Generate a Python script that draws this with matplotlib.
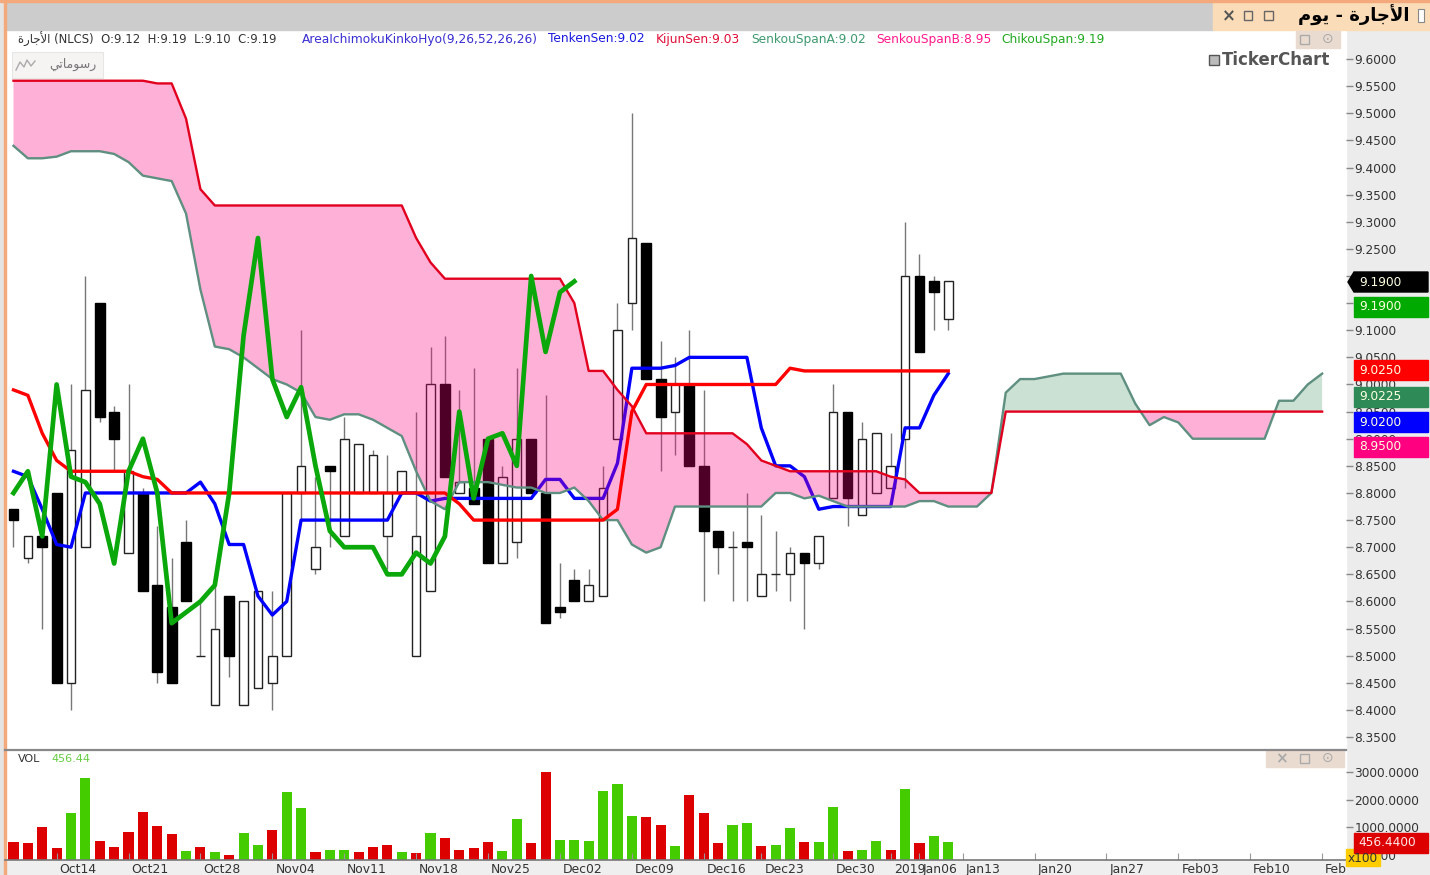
import matplotlib
matplotlib.use('Agg')
import matplotlib.pyplot as plt
from matplotlib.patches import Rectangle, Polygon
from matplotlib.transforms import ScaledTranslation
import numpy as np

W, H = 1430, 875
plt.rcParams['font.family'] = ['DejaVu Sans', 'Noto Sans']

# candles, one entry per bar
opens = [8.77, 8.68, 8.72, 8.80, 8.45, 8.70, 9.15, 8.95, 8.69, 8.80, 8.63, 8.59, 8.71, 8.50, 8.41, 8.61, 8.41, 8.44, 8.45, 8.50,
         8.80, 8.66, 8.85, 8.72, 8.80, 8.80, 8.72, 8.80, 8.50, 8.62, 9.00, 8.80, 8.81, 8.90, 8.67, 8.71, 8.90, 8.80, 8.59, 8.64,
         8.60, 8.61, 8.90, 9.15, 9.26, 9.01, 8.95, 9.00, 8.85, 8.73, 8.70, 8.71, 8.61, 8.65, 8.65, 8.69, 8.67, 8.79, 8.95, 8.76,
         8.80, 8.81, 8.90, 9.20, 9.19, 9.12]
closes = [8.75, 8.72, 8.70, 8.45, 8.88, 8.99, 8.94, 8.90, 8.84, 8.62, 8.47, 8.45, 8.60, 8.50, 8.55, 8.50, 8.60, 8.62, 8.50, 8.80,
          8.85, 8.70, 8.84, 8.90, 8.89, 8.87, 8.80, 8.84, 8.72, 9.00, 8.83, 8.82, 8.78, 8.67, 8.83, 8.90, 8.80, 8.56, 8.58, 8.60,
          8.63, 8.81, 9.10, 9.27, 9.01, 8.94, 9.00, 8.85, 8.73, 8.70, 8.70, 8.70, 8.65, 8.65, 8.69, 8.67, 8.72, 8.95, 8.79, 8.90,
          8.91, 8.85, 9.20, 9.06, 9.17, 9.19]
highs = [8.77, 8.72, 8.72, 8.80, 9.00, 9.20, 9.15, 8.96, 9.00, 8.81, 8.74, 8.68, 8.75, 8.60, 8.63, 8.61, 8.60, 8.62, 8.62, 8.80,
         9.10, 8.83, 8.85, 8.94, 8.89, 8.88, 8.87, 8.84, 8.95, 9.07, 9.09, 8.99, 9.03, 8.90, 8.85, 9.03, 8.90, 8.98, 8.67, 8.66,
         8.66, 8.85, 9.15, 9.50, 9.26, 9.08, 9.05, 9.10, 8.99, 8.73, 8.73, 8.80, 8.76, 8.73, 8.70, 8.69, 8.72, 9.00, 8.95, 8.93,
         8.91, 8.91, 9.30, 9.24, 9.20, 9.19]
lows = [8.70, 8.67, 8.55, 8.45, 8.40, 8.70, 8.93, 8.84, 8.69, 8.62, 8.45, 8.45, 8.60, 8.50, 8.41, 8.46, 8.41, 8.44, 8.40, 8.50,
        8.75, 8.65, 8.70, 8.72, 8.80, 8.80, 8.66, 8.80, 8.50, 8.62, 8.83, 8.80, 8.78, 8.67, 8.67, 8.68, 8.80, 8.56, 8.57, 8.60,
        8.60, 8.61, 8.90, 9.10, 9.01, 8.84, 8.87, 8.85, 8.60, 8.65, 8.60, 8.60, 8.61, 8.62, 8.60, 8.55, 8.66, 8.79, 8.74, 8.76,
        8.80, 8.81, 8.81, 9.06, 9.10, 9.10]

tenkan = [8.84, 8.83, 8.77, 8.705, 8.70, 8.80, 8.80, 8.80, 8.80, 8.80, 8.80, 8.80, 8.80, 8.82, 8.78, 8.705, 8.705, 8.61, 8.575, 8.60,
          8.75, 8.75, 8.75, 8.75, 8.75, 8.75, 8.75, 8.80, 8.80, 8.785, 8.79, 8.79, 8.79, 8.79, 8.79, 8.79, 8.79, 8.825, 8.825, 8.79,
          8.79, 8.79, 8.855, 9.03, 9.03, 9.03, 9.035, 9.05, 9.05, 9.05, 9.05, 9.05, 8.92, 8.85, 8.85, 8.83, 8.77, 8.775, 8.775, 8.775,
          8.775, 8.775, 8.92, 8.92, 8.98, 9.02]
kijun = [8.99, 8.98, 8.91, 8.86, 8.84, 8.84, 8.84, 8.84, 8.84, 8.83, 8.825, 8.80, 8.80, 8.80, 8.80, 8.80, 8.80, 8.80, 8.80, 8.80,
         8.80, 8.80, 8.80, 8.80, 8.80, 8.80, 8.80, 8.80, 8.80, 8.80, 8.80, 8.78, 8.75, 8.75, 8.75, 8.75, 8.75, 8.75, 8.75, 8.75,
         8.75, 8.75, 8.77, 8.95, 9.00, 9.00, 9.00, 9.00, 9.00, 9.00, 9.00, 9.00, 9.00, 9.00, 9.03, 9.025, 9.025, 9.025, 9.025, 9.025,
         9.025, 9.025, 9.025, 9.025, 9.025, 9.025]
chikou = [8.80, 8.84, 8.72, 9.00, 8.83, 8.82, 8.78, 8.67, 8.84, 8.90, 8.80, 8.56, 8.58, 8.60, 8.63, 8.80, 9.09, 9.27, 9.01, 8.94,
          8.995, 8.85, 8.73, 8.70, 8.70, 8.70, 8.65, 8.65, 8.69, 8.67, 8.72, 8.95, 8.79, 8.90, 8.91, 8.85, 9.20, 9.06, 9.17, 9.19]
span_a = [9.44, 9.417, 9.417, 9.42, 9.43, 9.43, 9.43, 9.425, 9.41, 9.385, 9.38, 9.375, 9.315, 9.175, 9.07, 9.065, 9.05, 9.03, 9.01, 9.00,
          8.985, 8.94, 8.935, 8.945, 8.945, 8.935, 8.92, 8.905, 8.84, 8.785, 8.77, 8.82, 8.82, 8.82, 8.815, 8.81, 8.81, 8.80, 8.80, 8.81,
          8.785, 8.75, 8.75, 8.705, 8.69, 8.70, 8.775, 8.775, 8.775, 8.775, 8.775, 8.775, 8.775, 8.80, 8.80, 8.79, 8.795, 8.785, 8.775, 8.775,
          8.775, 8.775, 8.775, 8.785, 8.785, 8.775, 8.775, 8.775, 8.80, 8.985, 9.01, 9.01, 9.015, 9.02, 9.02, 9.02, 9.02, 9.02, 8.965, 8.925,
          8.94, 8.93, 8.90, 8.90, 8.90, 8.90, 8.90, 8.90, 8.97, 8.97, 9.00, 9.02]
span_b = [9.56, 9.56, 9.56, 9.56, 9.56, 9.56, 9.56, 9.56, 9.56, 9.56, 9.555, 9.555, 9.49, 9.36, 9.33, 9.33, 9.33, 9.33, 9.33, 9.33,
          9.33, 9.33, 9.33, 9.33, 9.33, 9.33, 9.33, 9.33, 9.27, 9.225, 9.195, 9.195, 9.195, 9.195, 9.195, 9.195, 9.195, 9.195, 9.195, 9.15,
          9.025, 9.025, 8.99, 8.96, 8.91, 8.91, 8.91, 8.91, 8.91, 8.91, 8.91, 8.89, 8.86, 8.85, 8.84, 8.84, 8.84, 8.84, 8.84, 8.84,
          8.84, 8.83, 8.825, 8.80, 8.80, 8.80, 8.80, 8.80, 8.80, 8.95, 8.95, 8.95, 8.95, 8.95, 8.95, 8.95, 8.95, 8.95, 8.95, 8.95,
          8.95, 8.95, 8.95, 8.95, 8.95, 8.95, 8.95, 8.95, 8.95, 8.95, 8.95, 8.95]

volume = [469, 422, 1011, 241, 1504, 2767, 517, 289, 830, 1552, 1059, 746, 144, 289, 108, 12, 782, 373, 914, 2274,
          1685, 108, 192, 192, 108, 289, 373, 108, 60, 782, 602, 192, 241, 469, 144, 1288, 422, 2996, 554, 554,
          517, 2323, 2551, 1408, 1372, 1095, 325, 2178, 1504, 422, 1095, 1143, 325, 373, 963, 469, 469, 1733, 144, 192,
          517, 192, 2383, 422, 686, 456.44]
vol_up = [0, 0, 0, 0, 1, 1, 0, 0, 0, 0, 0, 0, 1, 0, 1, 0, 1, 1, 0, 1,
          1, 0, 1, 1, 0, 0, 0, 1, 0, 1, 0, 0, 0, 0, 1, 1, 0, 0, 1, 1,
          1, 1, 1, 1, 0, 0, 1, 0, 0, 0, 1, 1, 0, 1, 1, 0, 1, 1, 0, 1,
          1, 0, 1, 0, 1, 1]

date_ticks = [3, 8, 13, 18, 23, 28, 33, 38, 43, 48, 52, 57, 61, 63, 66, 71, 76, 81, 86, 91]
date_labels = ['Oct14', 'Oct21', 'Oct28', 'Nov04', 'Nov11', 'Nov18', 'Nov25', 'Dec02', 'Dec09', 'Dec16', 'Dec23', 'Dec30',
               '2019', 'Jan06', 'Jan13', 'Jan20', 'Jan27', 'Feb03', 'Feb10', 'Feb']
price_ticks = [8.35, 8.40, 8.45, 8.50, 8.55, 8.60, 8.65, 8.70, 8.75, 8.80, 8.85, 8.90, 8.95, 9.00, 9.05, 9.10, 9.15, 9.20, 9.25, 9.30,
               9.35, 9.40, 9.45, 9.50, 9.55, 9.60]
vol_ticks = [0, 1000, 2000, 3000]

# arabic text, already in shaped glyphs and display order
name_ar = '\ufe93\ufead\ufe8e\ufe9f\ufef7\ufe8d'
day_ar = '\ufee1\ufeee\ufef3'
drawings_ar = '\ufef2\ufe97\ufe8e\ufee3\ufeee\ufeb3\ufead'


def box(left, top, right, bottom):
    return [left / W, 1 - bottom / H, (right - left) / W, (bottom - top) / H]


fig = plt.figure(figsize=(W / 100, H / 100), dpi=100, facecolor='#ececec')

bg = fig.add_axes([0, 0, 1, 1], zorder=-1)
bg.set_xlim(0, W)
bg.set_ylim(H, 0)
bg.axis('off')
bg.add_patch(Rectangle((0, 0), 4, H, color='#e4e4e4'))
bg.add_patch(Rectangle((5, 30), 1341, 830, color='white'))
bg.add_patch(Rectangle((5, 860), 1341, 15, color='#efefef'))
bg.add_patch(Rectangle((5, 3), 1208, 27, color='#cccccc'))
bg.add_patch(Rectangle((1213, 3), 217, 27, color='#fbdcb8'))
bg.add_patch(Rectangle((0, 0), W, 2, color='#f4a97c'))
bg.add_patch(Rectangle((4, 0), 1.6, H, color='#f4a97c'))

x_min = -0.59
x_max = 92.66
x = np.arange(92)
xs = np.arange(66)

ax = fig.add_axes(box(5, 30, 1346, 749), facecolor='none')
ax.set_xlim(x_min, x_max)
ax.set_ylim(8.328, 9.6535)
for s in ax.spines.values():
    s.set_visible(False)
ax.set_xticks([])
ax.yaxis.tick_right()
ax.set_yticks(price_ticks)
ax.set_yticklabels(['%.4f' % p for p in price_ticks], fontsize=8.7, color='#333333')
ax.tick_params(axis='y', length=5, width=1, color='#888888', pad=1)

# candles
ax.vlines(xs, lows, highs, color='#777777', lw=1, zorder=1)
for i in xs:
    up = closes[i] >= opens[i]
    ax.bar(i, abs(closes[i] - opens[i]), bottom=min(opens[i], closes[i]), width=0.6 if up else 0.68,
           facecolor='white' if up else 'black', edgecolor='#222222' if up else 'black', lw=1, zorder=1.5)

ax.plot(xs, tenkan, color='#0000ff', lw=2.4, zorder=2)

# cloud
a = np.array(span_a)
b = np.array(span_b)
ax.fill_between(x, a, b, where=b >= a, interpolate=True, color='#ff0080', alpha=0.31, lw=0, zorder=3)
ax.fill_between(x, a, b, where=a >= b, interpolate=True, color='#2e8b57', alpha=0.25, lw=0, zorder=3)
ax.plot(x, span_a, color='#5f8f80', lw=1.7, zorder=3.5)
ax.plot(x, span_b, color='#e2001f', lw=1.7, zorder=3.5)

ax.plot(xs, kijun, color='#ff0000', lw=2.4, zorder=4)
ax.plot(np.arange(40), chikou, color='#0aa80a', lw=3.4, zorder=5)

# volume panel, bars stand on the panel floor which is below zero
vol_floor = -180
vol = fig.add_axes(box(5, 751, 1346, 860), facecolor='none')
vol.set_xlim(x_min, x_max)
vol.set_ylim(vol_floor, 3754)
vol.bar(xs, np.array(volume) - vol_floor, bottom=vol_floor, width=0.7, color=['#44cc00' if u else '#dd0000' for u in vol_up])
for name in ['top', 'left', 'right']:
    vol.spines[name].set_visible(False)
vol.spines['bottom'].set_color('#777777')
vol.spines['bottom'].set_linewidth(1.2)
vol.yaxis.tick_right()
vol.set_yticks(vol_ticks)
vol.set_yticklabels(['%.4f' % v for v in vol_ticks], fontsize=8.7, color='#333333')
vol.tick_params(axis='y', length=5, width=1, color='#888888', pad=1)
vol.set_xticks(date_ticks)
vol.set_xticklabels(date_labels, fontsize=8.9, color='#333333', ha='left')
vol.tick_params(axis='x', direction='in', length=5, width=0.8, color='#999999', pad=2)
shift = ScaledTranslation(3 / 100, 0, fig.dpi_scale_trans)
for label in vol.get_xticklabels():
    label.set_transform(label.get_transform() + shift)

# everything on top of the panels
top = fig.add_axes([0, 0, 1, 1], zorder=10, facecolor='none')
top.set_xlim(0, W)
top.set_ylim(H, 0)
top.axis('off')

top.plot([5, 1346], [749.5, 749.5], color='#888888', lw=1.6)

# legend row
top.text(18, 39, name_ar + ' (NLCS)  O:9.12  H:9.19  L:9.10  C:9.19', fontsize=8.4, color='#333333', va='center')
legend_row = [(302, 'AreaIchimokuKinkoHyo(9,26,52,26,26)', '#3a2fd0'), (548, 'TenkenSen:9.02', '#1a1ae0'),
              (656, 'KijunSen:9.03', '#e0103a'), (751, 'SenkouSpanA:9.02', '#3f9a70'),
              (876, 'SenkouSpanB:8.95', '#ff1a8c'), (1001, 'ChikouSpan:9.19', '#22aa22')]
for px, txt, col in legend_row:
    top.text(px, 39, txt, fontsize=8.8, color=col, va='center')

# title tab
top.text(1410, 15, day_ar + ' - ' + name_ar, fontsize=13, fontweight='bold', color='black', va='center', ha='right')
top.add_patch(Rectangle((1418, 9), 6, 13, facecolor='white', edgecolor='#888888', lw=0.8))
top.text(1229, 16, '\u00d7', fontsize=12, fontweight='bold', color='#555555', ha='center', va='center')
top.add_patch(Rectangle((1244, 11), 8, 9, facecolor='none', edgecolor='#666666', lw=1))
top.add_patch(Rectangle((1264, 11), 9, 9, facecolor='none', edgecolor='#666666', lw=1))

# chart buttons
top.add_patch(Rectangle((1296, 31), 44, 17, color='#eadbd0'))
top.add_patch(Rectangle((1300, 35), 9, 9, facecolor='none', edgecolor='#aaaaaa', lw=1))
top.text(1328, 39, '\u2299', fontsize=10, color='#aaaaaa', ha='center', va='center')
top.add_patch(Rectangle((1266, 751), 78, 16, color='#eadbd0'))
top.text(1281, 759, '\u00d7', fontsize=11, fontweight='bold', color='#aaaaaa', ha='center', va='center')
top.add_patch(Rectangle((1300, 754), 9, 9, facecolor='none', edgecolor='#aaaaaa', lw=1))
top.text(1328, 758, '\u2299', fontsize=10, color='#aaaaaa', ha='center', va='center')

# drawings button
top.add_patch(Rectangle((12, 52), 91, 26, facecolor='#f6f3f3', edgecolor='#e6e6e6', lw=0.8, zorder=3))
top.plot([16, 20, 24, 27, 31, 35], [70, 62, 67, 60, 66, 61], color='#aaaaaa', lw=1, zorder=4)
top.text(97, 64, drawings_ar, fontsize=9, color='#777777', va='center', ha='right', zorder=4)

# watermark
top.add_patch(Rectangle((1209, 55), 10, 10, facecolor='#bbbbbb', edgecolor='#555555', lw=1))
top.text(1222, 60, 'TickerChart', fontsize=12, fontweight='bold', color='#555555', va='center')

# value tags
tags = [(307, '9.1900', '#00aa00'), (370, '9.0250', '#ff0000'), (397, '9.0225', '#2e8b57'),
        (422, '9.0200', '#0000ff'), (447, '8.9500', '#ff0080')]
for ty, txt, col in tags:
    top.add_patch(Rectangle((1354, ty - 10), 74, 20, color=col))
    top.text(1359, ty, txt, fontsize=8.7, color='#ffffe0', va='center')
top.add_patch(Polygon([(1348, 282), (1354, 272), (1428, 272), (1428, 292), (1354, 292)], color='black'))
top.text(1359, 282, '9.1900', fontsize=8.7, color='#ffffe0', va='center')

top.add_patch(Rectangle((1346, 849), 34, 17, color='#ffcc00'))
top.text(1348, 858, 'x100', fontsize=8.7, color='#333333', va='center')
top.add_patch(Rectangle((1354, 833), 74, 20, color='#dd0000'))
top.text(1358, 842, '456.4400', fontsize=8.7, color='#ffe8e8', va='center')

# volume header
top.text(18, 759, 'VOL', fontsize=8, color='#333333', va='center')
top.text(51, 759, '456.44', fontsize=8, color='#66cc44', va='center')

fig.savefig('out.png', dpi=100, facecolor=fig.get_facecolor())
